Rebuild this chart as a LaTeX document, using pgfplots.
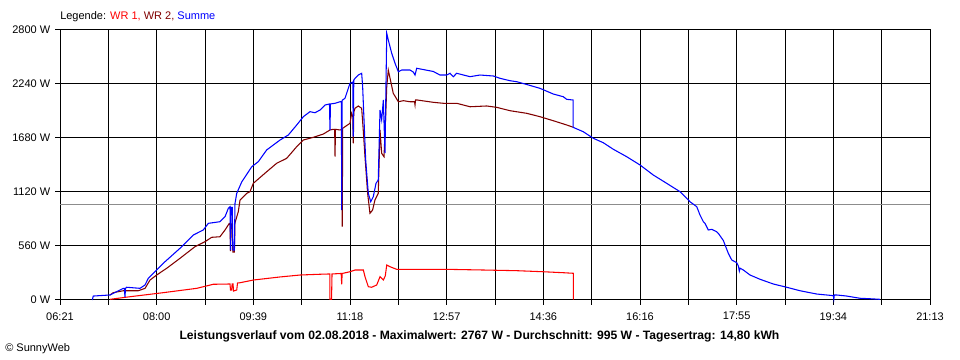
\documentclass[border=0pt]{standalone}
\usepackage{pgfplots}
\pgfplotsset{compat=1.18}
\usepackage{fontspec}
\setmainfont{Liberation Sans}
\definecolor{wrA}{RGB}{255,0,0}
\definecolor{wrB}{RGB}{128,0,0}
\definecolor{summe}{RGB}{0,0,255}
\definecolor{avg}{RGB}{140,140,140}
\begin{document}
\begin{tikzpicture}
\path[use as bounding box] (0pt,0pt) rectangle (720pt,270pt);
\begin{axis}[
  at={(45pt,45pt)}, anchor=south west,
  scale only axis, width=652.5pt, height=202.5pt,
  xmin=381, xmax=1273, ymin=0, ymax=2800,
  xtick={381,430.556,480.111,529.667,579.222,628.778,678.333,727.889,777.444,827,876.556,926.111,975.667,1025.222,1074.778,1124.333,1173.889,1223.444,1273},
  xticklabels={06:21,,08:00,,09:39,,11:18,,12:57,,14:36,,16:16,,17:55,,19:34,,21:13},
  ytick={0,560,1120,1680,2240,2800},
  yticklabels={0 W,560 W,1120 W,1680 W,2240 W,2800 W},
  xtick pos=left, ytick pos=left,
  tick align=outside, major tick length=3.75pt,
  grid=major, major grid style={black, line width=0.75pt},
  axis line style={black, line width=0.75pt},
  tick style={black, line width=0.75pt},
  tick label style={font=\fontsize{8.25}{10}\selectfont},
  xticklabel style={yshift=-2pt},
  clip=false,
]
\addplot[avg, line width=0.75pt] coordinates {(381,995) (1273,995)};
\addplot[wrA, line width=0.8pt] coordinates {
(432.3,7)(452.8,34)(486.9,76)(521.2,121)(538.2,163)(555.3,166)(555.8,104)(557.0,104)(557.5,166)(558.4,166)(558.9,93)(562.2,104)(563.0,176)(565.6,179)(579.2,207)(606.6,239)(627.1,259)(647.6,267)(657.6,270)(657.8,7)(659.4,7)(659.9,270)(669.3,275)(669.8,163)(670.3,275)(678.3,293)(683.5,311)(692.0,311)(693.7,242)(697.1,138)(700.6,132)(705.7,156)(709.1,242)(712.5,207)(714.5,250)(716.0,363)(719.4,345)(726.2,318)(777.5,318)(815.0,311)(849.2,304)(876.5,293)(897.0,283)(907.3,277)(907.3,5)
};
\addplot[wrB, line width=0.8pt] coordinates {
(432.3,52)(435.6,76)(445.9,96)(461.3,96)(468.2,121)(473.3,207)(480.1,259)(490.4,329)(504.0,432)(519.4,553)(529.7,605)(536.5,650)(545.0,656)(550.2,726)(554.6,795)(555.3,795)(555.8,508)(556.4,788)(557.6,788)(558.2,498)(559.8,498)(560.4,800)(563.8,916)(565.6,1037)(572.4,1106)(575.8,1123)(579.2,1210)(592.9,1330)(603.2,1418)(613.4,1469)(623.7,1590)(630.5,1659)(640.7,1687)(651.0,1721)(657.8,1763)(661.2,1770)(662.6,1770)(663.0,1486)(663.4,1770)(668.1,1763)(670.0,1770)(670.4,760)(670.8,1780)(673.2,1797)(678.3,1832)(680.0,1936)(681.2,1900)(681.7,1625)(682.2,1950)(683.5,1988)(686.8,2012)(690.3,1988)(691.9,1763)(693.7,1486)(696.4,1106)(698.8,899)(701.5,933)(703.9,1037)(707.3,1106)(709.1,1763)(710.8,1521)(713.2,1486)(714.9,1901)(716.0,2212)(717.6,2385)(719.4,2299)(722.7,2143)(727.9,2056)(733.0,2067)(739.8,2056)(744.5,2056)(745.0,2022)(745.5,2074)(747.3,2074)(763.7,2050)(774.0,2040)(787.7,2040)(801.4,2004)(818.5,2012)(828.7,1998)(842.4,1963)(859.5,1936)(873.1,1901)(886.8,1859)(900.5,1815)(907.3,1791)
};
\addplot[summe, line width=0.8pt] coordinates {
(414.1,0)(415.1,41)(432.3,52)(445.9,121)(447.0,121)(447.6,31)(448.2,121)(449.4,132)(463.0,121)(468.2,156)(471.5,225)(475.0,259)(480.1,311)(486.9,381)(504.0,536)(517.7,674)(527.9,726)(533.1,795)(545.0,812)(550.2,864)(553.6,951)(555.3,967)(555.8,518)(556.4,960)(557.6,960)(558.2,518)(559.8,518)(560.4,1000)(562.2,1106)(567.3,1224)(577.6,1382)(584.3,1434)(592.9,1556)(606.6,1659)(615.1,1711)(623.7,1815)(630.5,1901)(637.3,1953)(642.4,1942)(647.6,1970)(652.7,2022)(657.3,2033)(657.8,1763)(658.3,2033)(663.0,2040)(668.1,2056)(669.5,2056)(669.8,933)(670.2,2070)(673.2,2092)(674.9,2144)(678.3,2247)(681.2,2260)(681.7,1693)(682.2,2280)(683.5,2299)(686.8,2333)(690.3,2351)(691.3,2212)(692.7,1867)(694.4,1452)(697.1,1106)(699.6,1019)(702.2,1071)(705.0,1210)(707.3,1244)(709.1,1970)(710.8,1867)(712.5,2074)(714.2,1524)(716.0,2766)(717.6,2696)(721.1,2558)(724.5,2455)(727.9,2367)(731.3,2385)(739.8,2385)(743.2,2364)(745.0,2333)(746.7,2403)(763.7,2370)(770.6,2333)(777.5,2333)(780.9,2351)(784.3,2316)(787.7,2351)(801.4,2316)(811.6,2333)(825.3,2323)(832.1,2299)(842.4,2274)(849.2,2264)(859.5,2235)(873.1,2195)(886.8,2136)(897.0,2108)(900.5,2081)(907.0,2074)(907.0,1791)(917.5,1745)(927.8,1677)(938.0,1631)(948.3,1563)(962.0,1486)(975.7,1400)(989.3,1296)(1003.0,1210)(1016.7,1123)(1026.9,1019)(1033.8,968)(1037.2,881)(1040.6,812)(1042.3,795)(1045.7,726)(1049.2,733)(1054.3,708)(1055.9,692)(1061.1,617)(1066.2,484)(1069.7,415)(1074.8,387)(1076.5,353)(1077.5,300)(1078.2,330)(1081.6,311)(1088.5,259)(1098.7,215)(1112.3,166)(1126.1,132)(1139.7,96)(1156.8,62)(1173.9,45)(1174.4,10)(1174.9,52)(1177.3,52)(1187.6,41)(1201.2,18)(1211.5,13)(1221.7,7)
};
\end{axis}
\node[anchor=west, inner sep=0pt, font=\fontsize{8.25}{10}\selectfont] at (45pt,257.25pt) {Legende: \textcolor{wrA}{WR 1,} \textcolor{wrB}{WR 2,} \textcolor{summe}{Summe}};
\node[inner sep=0pt, font=\fontsize{9.1}{11}\selectfont\bfseries] at (359.6pt,17.5pt) {Leistungsverlauf vom 02.08.2018 - Maximalwert: 2767 W - Durchschnitt: 995 W - Tagesertrag: 14,80 kWh};
\node[anchor=west, inner sep=0pt, font=\fontsize{8.25}{10}\selectfont] at (3.75pt,8.25pt) {© SunnyWeb};
\end{tikzpicture}
\end{document}
